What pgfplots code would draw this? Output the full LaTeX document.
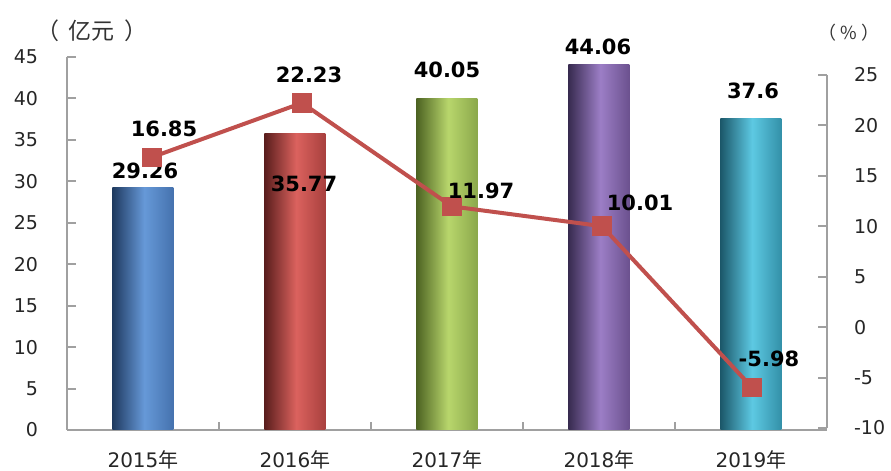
\documentclass[border=0pt]{standalone}
\usepackage{pgfplots}
\pgfplotsset{compat=1.18}
\usepackage{fontspec}
\setmainfont{DejaVu Sans}
\newfontfamily\cjk{Noto Sans CJK SC}

\definecolor{axisgray}{HTML}{A0A0A0}
\definecolor{linered}{HTML}{C0504D}
% bar colours: left edge, highlight, right edge
\definecolor{bL}{HTML}{1F3A60}\definecolor{bH}{HTML}{6699D8}\definecolor{bR}{HTML}{4572AE}
\definecolor{rL}{HTML}{5A1E1D}\definecolor{rH}{HTML}{DB625E}\definecolor{rR}{HTML}{A8403E}
\definecolor{gL}{HTML}{4D6322}\definecolor{gH}{HTML}{B8D66C}\definecolor{gR}{HTML}{8BA84B}
\definecolor{pL}{HTML}{382B50}\definecolor{pH}{HTML}{9C7EC6}\definecolor{pR}{HTML}{6B518E}
\definecolor{tL}{HTML}{1C586A}\definecolor{tH}{HTML}{5DC9E3}\definecolor{tR}{HTML}{3390A8}

% vertical shadings, turned by 90 degrees: 75bp = left edge, 25bp = right edge
\pgfdeclareverticalshading{cylblue}{100bp}{color(0bp)=(bR); color(25bp)=(bR); color(49bp)=(bH); color(75bp)=(bL); color(100bp)=(bL)}
\pgfdeclareverticalshading{cylred}{100bp}{color(0bp)=(rR); color(25bp)=(rR); color(49bp)=(rH); color(75bp)=(rL); color(100bp)=(rL)}
\pgfdeclareverticalshading{cylgreen}{100bp}{color(0bp)=(gR); color(25bp)=(gR); color(49bp)=(gH); color(75bp)=(gL); color(100bp)=(gL)}
\pgfdeclareverticalshading{cylpurple}{100bp}{color(0bp)=(pR); color(25bp)=(pR); color(49bp)=(pH); color(75bp)=(pL); color(100bp)=(pL)}
\pgfdeclareverticalshading{cylteal}{100bp}{color(0bp)=(tR); color(25bp)=(tR); color(49bp)=(tH); color(75bp)=(tL); color(100bp)=(tL)}

\pgfplotsset{
    cylbar/.style={ybar, bar width=30.5pt, bar shift=0pt, draw=none,
        shading=#1, shading angle=90,
        nodes near coords, point meta=explicit symbolic,
        every node near coord/.append style={font=\fontsize{10.5}{12}\selectfont\bfseries, anchor=center}},
}

\begin{document}
\begin{tikzpicture}
    \begin{axis}[
        scale only axis,
        width=380pt, height=186.5pt,
        at={(0,0)}, anchor=south west,
        xmin=-0.5, xmax=4.5,
        ymin=0, ymax=45,
        ytick={0,5,...,45},
        xtick={0,1,2,3,4},
        xticklabels={2015{\cjk 年},2016{\cjk 年},2017{\cjk 年},2018{\cjk 年},2019{\cjk 年}},
        minor xtick={0.5,1.5,2.5,3.5},
        major x tick style={draw=none},
        axis lines*=left,
        axis line style={-, axisgray, line width=1pt},
        tick style={axisgray, line width=1pt},
        tick align=inside,
        major tick length=4.5pt,
        minor tick length=4pt,
        /pgf/number format/assume math mode=true,
        tick label style={font=\fontsize{9.5}{11}\selectfont, text=black!85},
        yticklabel style={xshift=-11pt},
        xticklabel style={yshift=-7pt, font=\fontsize{10}{12}\selectfont},
        clip=false,
    ]
        \addplot[cylbar=cylblue, nodes near coords style={xshift=1pt, yshift=8.25pt}]
            coordinates {(0,29.26) [29.26]};
        \addplot[cylbar=cylred, nodes near coords style={xshift=4.5pt, yshift=-25pt}]
            coordinates {(1,35.77) [35.77]};
        \addplot[cylbar=cylgreen, nodes near coords style={xshift=0pt, yshift=14pt}]
            coordinates {(2,40.05) [40.05]};
        \addplot[cylbar=cylpurple, nodes near coords style={xshift=-0.5pt, yshift=9pt}]
            coordinates {(3,44.06) [44.06]};
        \addplot[cylbar=cylteal, nodes near coords style={xshift=1pt, yshift=13.5pt}]
            coordinates {(4,37.6) [37.6]};
    \end{axis}
    \begin{axis}[
        scale only axis,
        width=375pt, height=176.5pt,
        at={(5pt,1pt)}, anchor=south west,
        xmin=-0.5, xmax=4.5,
        ymin=-10, ymax=25,
        ytick={-10,-5,...,25},
        axis x line=none,
        axis y line*=right,
        axis line style={-, axisgray, line width=1pt},
        tick style={axisgray, line width=1pt},
        tick align=inside,
        major tick length=4.5pt,
        /pgf/number format/assume math mode=true,
        tick label style={font=\fontsize{9.5}{11}\selectfont, text=black!85},
        yticklabel style={xshift=10pt},
        clip=false,
    ]
        \addplot[
            linered, line width=2pt,
            mark=square*, mark size=4.6pt, mark options={fill=linered, draw=linered, line width=0pt},
            nodes near coords, point meta=explicit symbolic,
            visualization depends on={\thisrow{dx} \as \dx},
            visualization depends on={\thisrow{dy} \as \dy},
            nodes near coords style={font=\fontsize{10.5}{12}\selectfont\bfseries, text=black,
                anchor=center, xshift=\dx pt, yshift=\dy pt},
        ] table[x=x, y=y, meta=lab] {
            x y lab dx dy
            0 16.85 16.85 6 14
            1 22.23 22.23 3.5 14
            2 11.97 11.97 14.5 8
            3 10.01 10.01 19 11.5
            4 -5.98 -5.98 8.5 14.5
        };
    \end{axis}
    \node[text=black!80, font=\cjk\fontsize{11.5}{13}\selectfont] at (12.5pt,199.5pt) {（\hspace{0.4em}亿元\hspace{0.4em}）};
    \node[text=black!80, font=\cjk\fontsize{9}{10}\selectfont] at (391pt,198.5pt) {（\hspace{0.25em}\%\hspace{0.25em}）};
    \pgfresetboundingbox
    \path[use as bounding box] (-33.5pt,-20.5pt) rectangle (412pt,215pt);
\end{tikzpicture}
\end{document}
